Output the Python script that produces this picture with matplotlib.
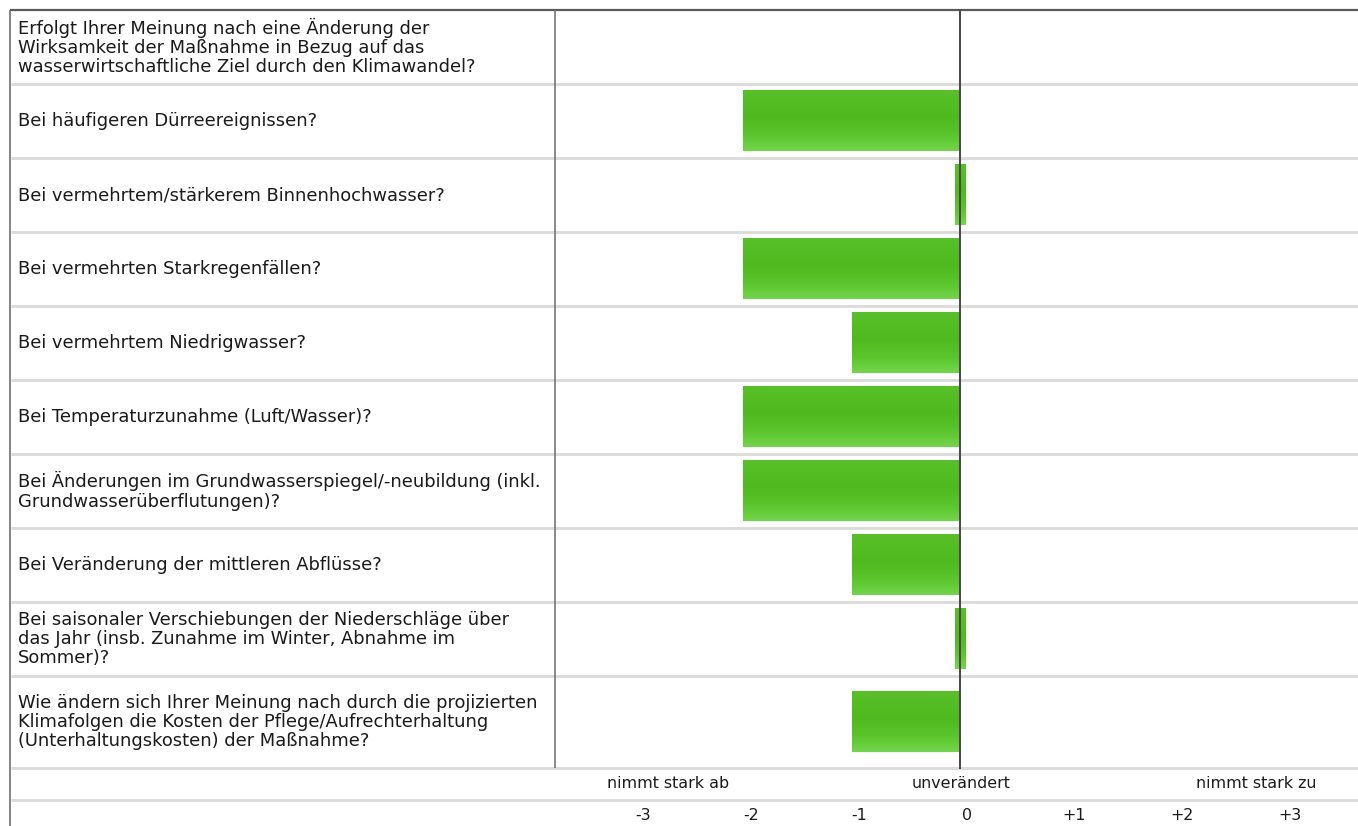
import numpy as np
import matplotlib.pyplot as plt
from matplotlib.colors import LinearSegmentedColormap

# question texts, first row is the header without a bar
questions = [
    "Erfolgt Ihrer Meinung nach eine Änderung der\nWirksamkeit der Maßnahme in Bezug auf das\nwasserwirtschaftliche Ziel durch den Klimawandel?",
    "Bei häufigeren Dürreereignissen?",
    "Bei vermehrtem/stärkerem Binnenhochwasser?",
    "Bei vermehrten Starkregenfällen?",
    "Bei vermehrtem Niedrigwasser?",
    "Bei Temperaturzunahme (Luft/Wasser)?",
    "Bei Änderungen im Grundwasserspiegel/-neubildung (inkl.\nGrundwasserüberflutungen)?",
    "Bei Veränderung der mittleren Abflüsse?",
    "Bei saisonaler Verschiebungen der Niederschläge über\ndas Jahr (insb. Zunahme im Winter, Abnahme im\nSommer)?",
    "Wie ändern sich Ihrer Meinung nach durch die projizierten\nKlimafolgen die Kosten der Pflege/Aufrechterhaltung\n(Unterhaltungskosten) der Maßnahme?",
]
# mean answers for rows 1..9 (header has none)
values = [-2, 0, -2, -1, -2, -2, -1, 0, -1]
scale_labels = ["nimmt stark ab", "unverändert", "nimmt stark zu"]
tick_values = [-3, -2, -1, 0, 1, 2, 3]
tick_labels = ["-3", "-2", "-1", "0", "+1", "+2", "+3"]

W, H = 1358, 826
fig = plt.figure(figsize=(W / 100, H / 100), dpi=100)
fig.patch.set_facecolor("white")

# table background in pixel coordinates
bg = fig.add_axes([0, 0, 1, 1])
bg.set_xlim(0, W)
bg.set_ylim(H, 0)
bg.axis("off")

row_h = [74] * 9 + [92]
edges = np.concatenate([[10], 10 + np.cumsum(row_h)])
centers = (edges[:-1] + edges[1:]) / 2
table_bottom = edges[-1]

px = 0.72  # points per pixel
sep_c = "#dcdcdc"
for y in list(edges[1:]) + [table_bottom + 32]:
    bg.plot([11, W], [y, y], color=sep_c, lw=3 * px, solid_capstyle="butt", zorder=1)
bg.plot([10, W], [10, 10], color="#5a5a5a", lw=2.2 * px, solid_capstyle="butt", zorder=3)
bg.plot([10, 10], [10, H], color="#6a6a6a", lw=1.6 * px, solid_capstyle="butt", zorder=3)
bg.plot([555, 555], [10, table_bottom], color="#707070", lw=1.6 * px, solid_capstyle="butt", zorder=3)

for q, yc in zip(questions, centers):
    bg.text(18, yc, q, ha="left", va="center", fontsize=12.9, linespacing=1.1,
            color="#1a1a1a", family="DejaVu Sans")

# bar panel
x_lo, x_hi = 555, 1360
bar_ax = fig.add_axes([x_lo / W, 0, (x_hi - x_lo) / W, 1])
bar_ax.patch.set_alpha(0)
bar_ax.axis("off")
unit = 108.5
zero_px = 960
bar_ax.set_xlim((x_lo - zero_px) / unit, (x_hi - zero_px) / unit)
bar_ax.set_ylim(H, 0)

green = LinearSegmentedColormap.from_list(
    "bar", [(0, "#58c028"), (0.45, "#4fb91e"), (0.75, "#5cc52e"), (1, "#72d649")])
grad = np.linspace(0, 1, 64).reshape(-1, 1)

bar_y = centers[1:]
widths = [v if v != 0 else 0.1 for v in values]
lefts = [0 if v != 0 else -0.05 for v in values]
bars = bar_ax.barh(bar_y, widths, left=lefts, height=61, color="none", zorder=2)
for b in bars:
    x0, y0, w, h = b.get_x(), b.get_y(), b.get_width(), b.get_height()
    bar_ax.imshow(grad, cmap=green, aspect="auto", zorder=2,
                  extent=[x0, x0 + w, y0 + h, y0], interpolation="bilinear")
bar_ax.set_xlim((x_lo - zero_px) / unit, (x_hi - zero_px) / unit)
bar_ax.set_ylim(H, 0)

bar_ax.plot([0, 0], [10, table_bottom], color="#4a4a4a", lw=2 * px, zorder=4)

# answer scale rows (the scale cells sit on their own grid)
scale_ax = fig.add_axes([x_lo / W, 0, (x_hi - x_lo) / W, 1])
scale_ax.patch.set_alpha(0)
scale_ax.axis("off")
s_unit, s_zero = 107.7, 966.6
scale_ax.set_xlim((x_lo - s_zero) / s_unit, (x_hi - s_zero) / s_unit)
scale_ax.set_ylim(H, 0)
for lab, xv in zip(scale_labels, [-2.77, -0.05, 2.69]):
    scale_ax.text(xv, table_bottom + 16, lab, ha="center", va="center",
                  fontsize=11.4, color="#1a1a1a")
for tv, tl in zip(tick_values, tick_labels):
    scale_ax.text(tv, table_bottom + 48, tl, ha="center", va="center",
                  fontsize=11.4, color="#1a1a1a")

fig.savefig("out.png", dpi=100, facecolor="white")
